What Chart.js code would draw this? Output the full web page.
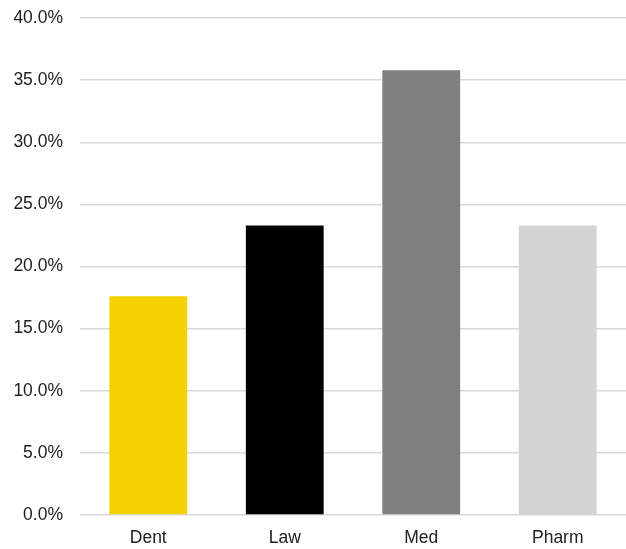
<!DOCTYPE html>
<html>
<head>
<meta charset="utf-8">
<script src="https://cdn.jsdelivr.net/npm/chart.js@4/dist/chart.umd.min.js"></script>
<style>
html,body{margin:0;padding:0;background:#fff;}
canvas{display:block;}
</style>
</head>
<body>
<canvas id="c" width="626" height="549"></canvas>
<script>
const categories = ["Dent", "Law", "Med", "Pharm"];
const shares = [17.6, 23.3, 35.8, 23.3];
const barColors = ["#F6D100", "#000000", "#808080", "#D3D3D3"];
const yTicks = [0, 5, 10, 15, 20, 25, 30, 35, 40];

const font = { family: "'Liberation Sans', Arial, sans-serif", size: 17.5 };

new Chart(document.getElementById('c'), {
  type: 'bar',
  data: {
    labels: categories,
    datasets: [{
      data: shares,
      backgroundColor: barColors,
      borderWidth: 0,
      barPercentage: 0.57,
      categoryPercentage: 1.0
    }]
  },
  options: {
    responsive: false,
    animation: false,
    devicePixelRatio: 1,
    layout: { padding: { top: 18, left: 0, right: 0, bottom: 0 } },
    plugins: { legend: { display: false }, tooltip: { enabled: false } },
    scales: {
      x: {
        grid: { display: false, drawTicks: false },
        border: { display: false },
        ticks: { color: '#222', font: font, padding: 13, maxRotation: 0 },
        afterFit: s => { s.height = 34; }
      },
      y: {
        min: yTicks[0],
        max: yTicks[yTicks.length - 1],
        afterBuildTicks: s => { s.ticks = yTicks.map(v => ({ value: v })); },
        grid: { color: '#d9d9d9', lineWidth: 1.5, drawTicks: false },
        border: { display: false },
        ticks: {
          color: '#222',
          font: font,
          padding: 17,
          callback: v => v.toFixed(1) + '%'
        },
        afterFit: s => { s.width = 80; s.paddingTop = 0; s.paddingBottom = 0; }
      }
    }
  }
});
</script>
</body>
</html>
